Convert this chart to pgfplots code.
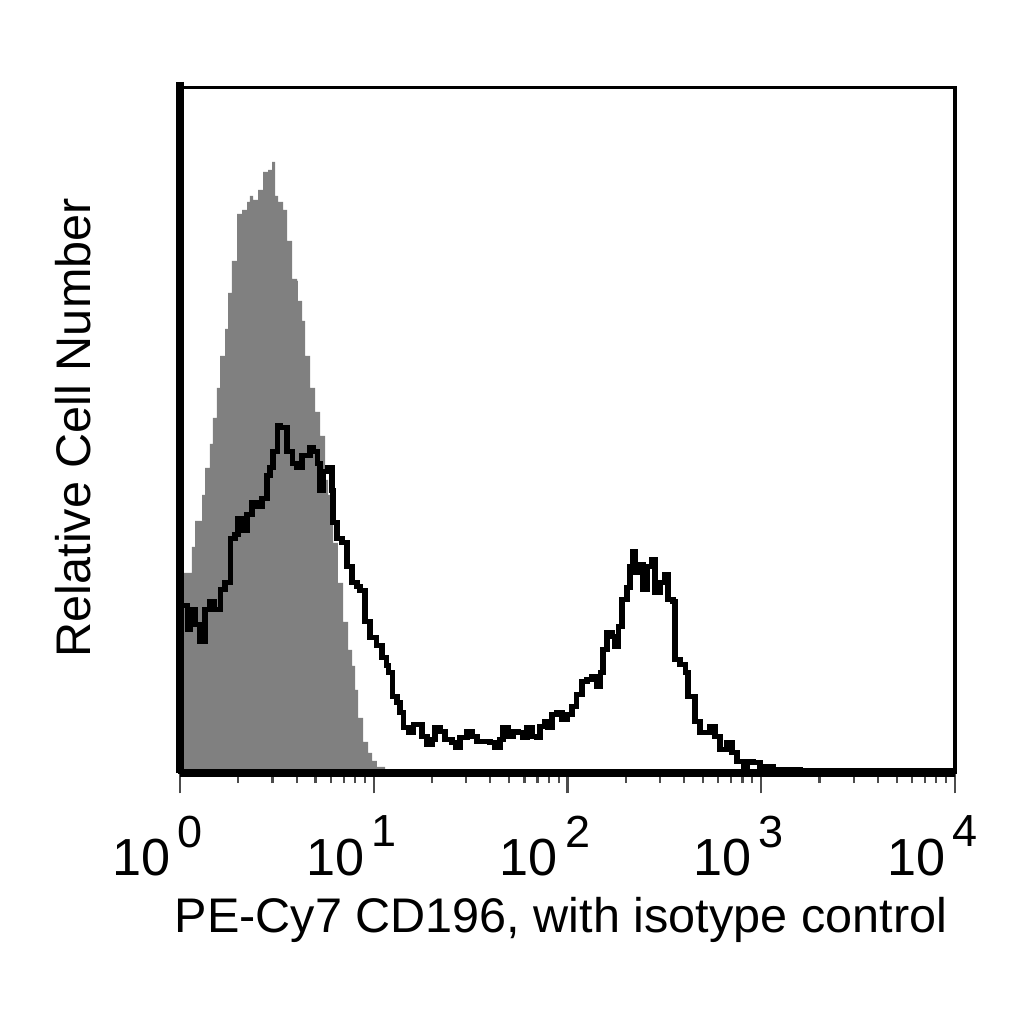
\documentclass[border=0pt]{standalone}
\usepackage{fontspec}
\setmainfont{Liberation Sans}
\usepackage{pgfplots}
\pgfplotsset{compat=1.18}

\definecolor{isogray}{RGB}{128,128,128}
% tick label: 10 left of the tick, exponent just right of it
\newcommand{\dec}[1]{\llap{10\kern2pt}\raisebox{8pt}{\fontsize{12.5}{14}\selectfont #1}}

\begin{document}
\begin{tikzpicture}
\begin{axis}[
    scale only axis,
    width=7.568cm, height=6.689cm,
    xmode=log,
    xmin=1, xmax=10000,
    ymin=0, ymax=685,
    clip=false,
    axis line style={line width=0.85pt},
    xtick={1,10,100,1000,10000},
    xticklabels={\dec{0},\dec{1},\dec{2},\dec{3},\dec{4}},
    ytick=\empty,
    xtick pos=bottom,
    tick align=outside,
    major tick length=0.2cm,
    minor tick length=0.1cm,
    tick style={black!70, line width=0.6pt},
    xticklabel style={font=\fontsize{14.5}{17}\selectfont, anchor=north west, inner sep=0pt, xshift=-0.03cm, yshift=-0.21cm},
    xlabel={PE-Cy7 CD196, with isotype control},
    xlabel style={font=\fontsize{13.5}{16}\selectfont, inner sep=0pt, at={(axis description cs:0.4916,-0.181)}, anchor=north},
    ylabel={Relative Cell Number},
    ylabel style={font=\fontsize{13.5}{16}\selectfont, inner sep=0pt, at={(axis description cs:-0.1161,0.504)}, anchor=base},
]

% isotype control (filled)
\addplot[const plot, draw=none, fill=isogray] coordinates {
(1,200)(1.153,226)(1.195,252)(1.299,278)(1.346,305)(1.428,329)(1.480,355)(1.552,385)
(1.609,417)(1.707,444)(1.769,480)(1.855,512)(1.969,559)(2.089,563)(2.217,571)(2.297,577)
(2.381,573)(2.527,583)(2.682,601)(2.846,603)(2.985,611)(3.093,577)(3.205,571)(3.401,563)
(3.567,532)(3.786,494)(4.017,492)(4.064,472)(4.263,452)(4.418,417)(4.688,385)(4.975,361)
(5.280,337)(5.603,293)(5.806,278)(6.161,230)(6.538,190)(6.939,151)(7.364,123)(7.722,107)
(8.002,83)(8.293,55)(8.800,31)(9.339,20)(9.795,12)(10.39,6)(11.43,3)(12.88,0)
} \closedcycle;

% CD196 stained
\addplot[const plot, black, line width=1.4pt] coordinates {
(1,167)(1.049,167)(1.087,143)(1.126,163)(1.195,148)(1.268,131)(1.346,163)(1.428,171)
(1.515,163)(1.609,183)(1.707,190)(1.812,234)(1.922,238)(1.992,254)(2.089,242)(2.217,258)
(2.353,270)(2.497,266)(2.650,274)(2.812,297)(2.914,305)(3.020,321)(3.168,347)(3.282,345)
(3.401,345)(3.567,321)(3.786,309)(4.017,305)(4.263,317)(4.524,317)(4.688,325)(4.859,321)
(5.095,309)(5.280,282)(5.471,301)(5.739,305)(6.087,282)(6.161,250)(6.461,234)(6.857,230)
(7.276,206)(7.722,190)(8.195,186)(8.492,182)(9.012,151)(9.564,135)(10.39,127)(11.03,115)
(11.57,107)(11.85,100)(12.43,76)(13.18,70)(13.66,60)(14.16,45)(15.03,40)(15.95,48)
(16.92,48)(17.74,36)(18.83,28)(19.98,33)(20.71,45)(21.98,41)(23.32,33)(25.34,30)
(26.27,25)(27.87,35)(30.29,41)(32.14,36)(34.11,31)(36.63,31)(39.81,30)(42.24,25)
(44.83,33)(46.46,45)(49.31,36)(52.33,41)(55.53,40)(58.93,35)(61.80,45)(65.58,36)
(69.59,35)(72.12,46)(76.54,51)(79.31,45)(83.18,58)(88.27,60)(93.67,53)(99.40,58)
(105.5,66)(111.9,78)(118.8,91)(126.1,93)(133.8,96)(142.0,86)(147.2,100)(152.5,123)
(159.9,140)(169.7,136)(175.9,126)(182.3,146)(191.1,173)(202.8,185)(210.2,206)(217.8,221)
(223.1,200)(231.2,208)(245.3,183)(257.3,206)(273.0,213)(282.9,180)(300.2,190)(318.6,198)
(330.2,173)(350.4,171)(358.8,113)(380.7,108)(404.2,100)(418.8,76)(455.0,51)(483.0,40)
(524.8,40)(543.9,46)(577.1,36)(612.6,23)(665.8,30)(706.3,20)(749.6,11)(805.2,6)
(844.4,11)(906.7,10)(985.1,6)(1150,3)(1585,2)(10000,2)
};

% heavy left and bottom frame lines
\draw[line width=2.2pt] (rel axis cs:0,0) -- (rel axis cs:1,0);
\draw[line width=2pt] (rel axis cs:0,1.009) -- (rel axis cs:0,0);
\end{axis}
\pgfresetboundingbox
\path[use as bounding box] ([shift={(-1.758cm,-2.451cm)}]current axis.south west)
    rectangle ([shift={(0.674cm,0.859cm)}]current axis.north east);
\end{tikzpicture}
\end{document}
